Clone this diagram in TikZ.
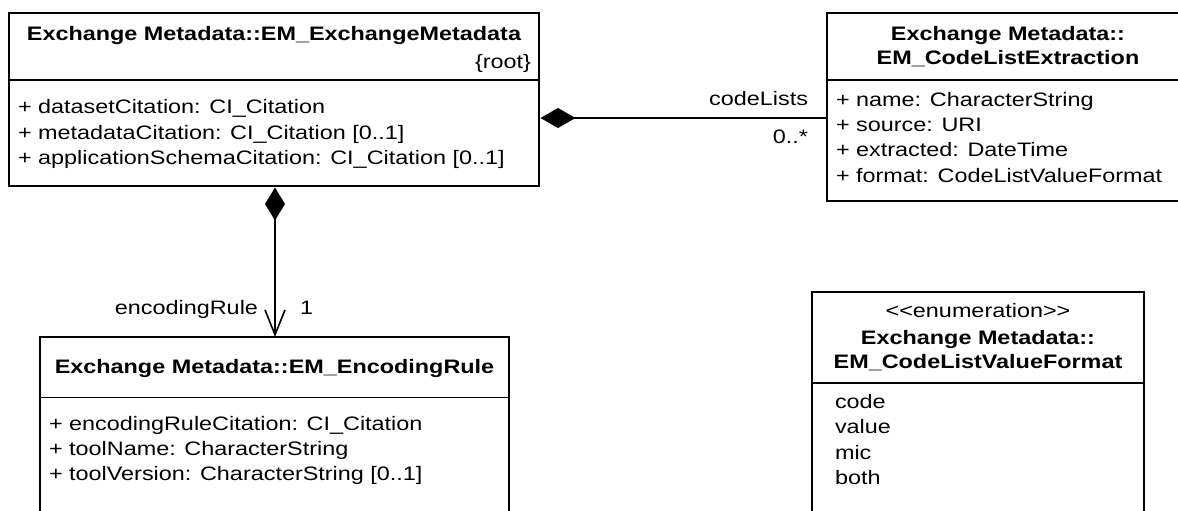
\documentclass[tikz,border=0pt]{standalone}
\usepackage{fontspec}
\setmainfont{Liberation Sans}[FakeStretch=1.2]
\usetikzlibrary{arrows.meta}
\begin{document}
\fontsize{19.5}{25}\selectfont
\begin{tikzpicture}[x=1pt,y=-1pt,
  umlbox/.style={draw=black,line width=1.6pt,rectangle,inner sep=0pt,outer sep=0pt,anchor=north west},
  divider/.style={draw=black,line width=1.6pt},
  txt/.style={inner sep=0pt,outer sep=0pt,text=black,font=\fontsize{19.5}{25}\selectfont},
  ttl/.style={txt,anchor=base,font=\fontsize{19.5}{25}\selectfont\bfseries},
  attr/.style={txt,anchor=base west},
  comp/.style={draw=black,line width=1.6pt,{Diamond[length=35pt,width=20pt,fill=black]}-},
  compnav/.style={draw=black,line width=1.6pt,{Diamond[length=33pt,width=20pt,fill=black]}-{Straight Barb[length=25pt,width=20pt]}}
]
\useasboundingbox[fill=white] (0,0) rectangle (1178,511);
\clip (0,0) rectangle (1178,511);

% Box 1: EM_ExchangeMetadata
\node[umlbox,minimum width=530pt,minimum height=173pt] (b1) at (9,13) {};
\draw[divider] (9,80) -- (539,80);
\node[ttl] (b1t) at (274,40.5) {Exchange Metadata::EM\_ExchangeMetadata};
\node[txt,anchor=base east] (b1r) at (531,69) {\{root\}};
\node[attr] (b1a1) at (18,113) {+ datasetCitation: CI\_Citation};
\node[attr] (b1a2) at (18,139) {+ metadataCitation: CI\_Citation [0..1]};
\node[attr] (b1a3) at (18,164) {+ applicationSchemaCitation: CI\_Citation [0..1]};

% Box 2: EM_CodeListExtraction
\node[umlbox,minimum width=362pt,minimum height=188pt] (b2) at (827,13) {};
\draw[divider] (827,80) -- (1189,80);
\node[ttl] (b2t1) at (1008,40.5) {Exchange Metadata::};
\node[ttl] (b2t2) at (1008,65) {EM\_CodeListExtraction};
\node[attr] (b2a1) at (836,106.5) {+ name: CharacterString};
\node[attr] (b2a2) at (836,131.5) {+ source: URI};
\node[attr] (b2a3) at (836,156.5) {+ extracted: DateTime};
\node[attr] (b2a4) at (836,182) {+ format: CodeListValueFormat};

% Box 3: EM_EncodingRule
\node[umlbox,minimum width=469pt,minimum height=200pt] (b3) at (40,337) {};
\draw[divider] (40,397.5) -- (509,397.5);
\node[ttl] (b3t) at (274.5,373) {Exchange Metadata::EM\_EncodingRule};
\node[attr] (b3a1) at (49,430) {+ encodingRuleCitation: CI\_Citation};
\node[attr] (b3a2) at (49,455) {+ toolName: CharacterString};
\node[attr] (b3a3) at (49,480) {+ toolVersion: CharacterString [0..1]};

% Box 4: EM_CodeListValueFormat
\node[umlbox,minimum width=332pt,minimum height=240pt] (b4) at (812,292) {};
\draw[divider] (812,383) -- (1144,383);
\node[txt,anchor=base] (b4s) at (978,317) {<\kern0pt<enumeration>\kern0pt>};
\node[ttl] (b4t1) at (978,344) {Exchange Metadata::};
\node[ttl] (b4t2) at (978,368) {EM\_CodeListValueFormat};
\node[attr] (b4l1) at (835,408) {code};
\node[attr] (b4l2) at (835,433) {value};
\node[attr] (b4l3) at (835,459) {mic};
\node[attr] (b4l4) at (835,484) {both};

% Connectors
\draw[comp] ([xshift=1.5pt,yshift=-18.5pt]b1.east) -- ([yshift=-11pt]b2.west);
\node[txt,anchor=base east] (l1) at (808,106) {codeLists};
\node[txt,anchor=base east] (l2) at (808,143) {0..*};

\draw[compnav] ([xshift=1pt,yshift=-1.5pt]b1.south) -- ([xshift=0.5pt]b3.north);
\node[txt,anchor=base east] (l3) at (258,314) {encodingRule};
\node[txt,anchor=base west] (l4) at (300,314) {1};
\end{tikzpicture}
\end{document}
